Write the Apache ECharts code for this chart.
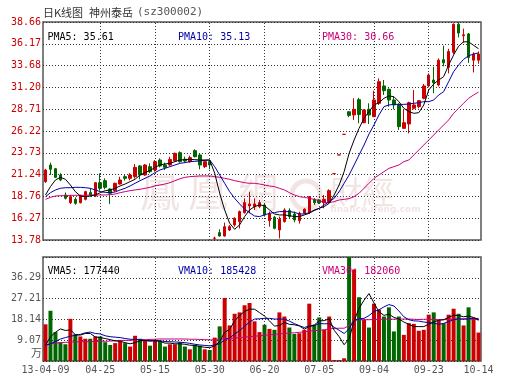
<!DOCTYPE html>
<html><head><meta charset="utf-8">
<script src="https://cdn.jsdelivr.net/npm/echarts@6/dist/echarts.min.js"></script>
<style>html,body{margin:0;padding:0;background:#fff}#c{width:530px;height:391px}</style>
</head><body><div id="c"></div>
<script>
// ---- data ----
const xTickIdx = [0, 11, 22, 33, 44, 55, 66, 77, 87];
const xTickLabels = ['13-04-09', '04-25', '05-15', '05-30', '06-20', '07-05', '09-04', '09-23', '10-14'];
const priceTicks = ['13.78', '16.27', '18.76', '21.24', '23.73', '26.22', '28.71', '31.20', '33.68', '36.17', '38.66'];
const volTicks = ['', '9.07', '18.14', '27.21', '36.29', ''];
const priceMin = 13.78, priceMax = 38.66;
const volMax = 45.35, volStep = 9.07;

const open = [20.44,22.34,21.92,21.20,18.92,18.04,18.42,18.04,18.42,19.19,18.80,20.32,20.55,19.60,19.41,20.17,21.01,20.82,21.01,22.23,21.20,22.15,21.77,22.91,22.34,22.34,22.83,23.75,23.00,22.72,23.98,23.48,22.15,22.72,13.97,14.62,14.24,14.92,15.50,15.88,16.90,17.67,17.59,17.59,17.78,15.99,16.37,14.92,15.88,17.14,16.75,15.99,16.83,16.90,18.43,18.35,18.04,18.16,21.35,23.49,25.84,28.42,28.05,29.80,27.17,28.69,27.86,29.38,31.36,30.98,29.76,29.19,26.52,27.02,28.81,29.00,29.95,31.36,32.04,31.47,34.35,33.50,35.20,38.40,37.10,37.30,34.30,34.30];
const close = [21.77,21.85,20.93,20.63,18.54,18.73,17.97,18.84,19.30,18.92,20.32,19.68,19.79,19.11,20.25,20.63,20.82,21.20,22.07,21.20,22.34,21.58,22.72,22.23,22.07,22.98,23.67,22.72,22.80,23.18,23.29,22.34,22.72,22.34,14.00,14.24,15.30,15.30,16.26,17.02,18.05,17.90,17.90,18.05,16.64,16.75,15.11,16.14,17.21,16.45,16.07,16.83,17.29,18.73,18.04,18.04,18.43,19.41,21.35,23.49,25.84,28.00,28.69,28.10,28.62,28.05,29.76,31.85,30.82,29.76,29.19,26.72,27.17,29.45,29.19,29.68,31.36,32.61,31.74,34.30,34.00,35.30,38.40,37.40,37.20,34.60,35.00,35.00];
const low = [20.30,21.20,20.85,20.50,18.40,17.90,17.80,17.95,18.30,18.73,18.70,19.40,19.57,17.90,19.30,20.10,20.56,20.60,20.80,20.70,21.10,21.40,21.58,22.07,21.77,22.23,22.70,22.60,22.60,22.60,23.20,21.85,22.00,21.85,13.78,14.16,14.16,14.80,15.30,15.10,16.80,16.83,17.21,17.40,16.45,15.30,15.00,13.97,15.77,16.26,15.80,15.65,16.75,16.75,17.78,17.90,17.40,17.97,21.35,23.49,25.84,27.80,27.48,27.10,27.10,27.02,27.80,29.19,30.33,28.99,28.70,26.34,26.52,25.95,28.70,28.81,29.83,31.20,30.52,31.30,33.60,32.80,35.00,36.90,36.30,34.00,32.90,33.90];
const high = [21.90,22.61,22.00,21.40,19.20,18.90,18.65,18.95,19.40,19.68,20.40,21.39,20.82,19.68,20.32,21.00,21.28,21.40,22.45,22.34,22.45,22.53,22.91,23.10,22.60,23.29,23.75,23.90,23.30,23.40,24.13,23.60,22.90,22.91,14.16,15.00,15.77,15.50,16.37,17.14,18.54,19.30,18.54,18.35,17.97,17.02,16.52,16.45,17.40,17.40,17.02,17.02,17.40,18.80,18.54,18.45,18.92,19.57,21.35,23.49,25.84,28.42,29.95,30.00,28.70,29.38,30.82,32.23,32.04,31.09,30.14,29.38,28.69,29.57,30.90,29.76,31.60,32.80,33.56,34.50,35.96,35.60,38.50,38.66,37.90,37.40,35.20,35.30];
const ma5 = [18.92,19.87,20.63,20.93,20.71,20.06,19.30,18.80,18.73,18.80,18.92,19.18,19.41,19.49,19.68,19.95,20.17,20.44,20.71,21.20,21.47,21.70,22.07,22.34,22.46,22.53,22.72,22.91,22.95,22.99,22.95,22.91,22.91,22.91,21.39,19.11,17.21,15.69,15.00,15.50,16.45,17.21,17.59,17.78,17.70,17.21,16.75,16.64,16.64,16.56,16.45,16.45,16.64,16.83,17.21,17.40,17.59,17.97,18.92,20.06,21.58,23.67,25.19,26.52,27.67,28.43,29.19,29.45,29.95,30.22,30.14,29.57,28.81,28.43,28.24,28.31,29.19,30.90,31.58,32.04,32.42,33.75,34.90,35.90,36.40,36.40,36.00,35.61];
const ma10 = [18.73,19.18,19.49,19.68,19.75,19.75,19.79,19.79,19.75,19.68,19.49,19.30,19.22,19.18,19.26,19.49,19.68,19.95,20.25,20.55,20.82,21.09,21.47,21.77,21.96,22.15,22.34,22.53,22.61,22.72,22.76,22.80,22.87,22.91,22.15,21.20,20.25,19.30,18.54,17.89,17.32,16.90,16.52,16.45,16.64,16.83,16.90,17.02,17.02,17.02,16.94,16.75,16.75,16.90,17.13,17.40,17.78,18.16,18.54,19.30,20.25,21.20,22.34,23.48,24.62,25.88,26.91,28.05,29.00,29.19,29.26,29.26,29.26,29.30,29.38,29.45,29.57,29.57,29.76,30.33,30.71,31.85,32.99,33.75,34.40,34.80,35.00,35.13];
const ma30 = [18.42,18.65,18.80,18.84,18.84,18.88,18.88,18.88,18.88,18.92,18.92,18.92,18.92,18.96,19.03,19.18,19.30,19.41,19.49,19.57,19.68,19.79,19.95,20.06,20.17,20.32,20.55,20.76,20.93,21.01,21.05,21.09,21.09,21.09,21.01,20.93,20.82,20.71,20.55,20.44,20.32,20.25,20.25,20.17,20.06,19.95,19.87,19.68,19.49,19.18,18.92,18.73,18.65,18.54,18.42,18.27,18.04,18.04,18.16,18.35,18.42,18.50,18.73,19.11,19.68,20.25,20.82,21.20,21.58,21.96,22.15,22.34,22.72,22.91,23.48,24.05,24.62,25.19,25.76,26.34,26.91,27.48,28.24,28.81,29.38,29.95,30.33,30.66];
const volume = [16.0,21.9,12.6,8.2,7.3,18.4,11.7,10.7,9.7,9.7,10.7,10.7,8.2,7.0,7.8,9.2,7.8,6.3,11.0,9.7,8.9,6.7,8.9,8.8,6.3,7.3,7.3,8.2,6.3,5.1,7.0,6.7,5.1,4.8,10.2,15.1,27.5,15.5,20.6,21.2,24.3,25.3,17.3,12.6,15.8,14.0,13.6,21.2,19.4,14.6,11.8,12.1,13.6,25.0,15.8,19.0,13.6,19.4,0.44,0.44,1.2,45.3,39.9,27.8,18.0,14.6,25.0,22.4,19.4,23.4,12.9,19.4,11.4,16.5,16.2,13.2,13.6,20.2,21.2,18.0,16.5,20.2,22.8,20.6,15.5,23.4,19.0,12.4];
const vma5 = [7.0,10.5,12.5,14.0,13.3,13.6,11.5,11.3,12.0,12.0,10.5,10.2,9.8,9.3,8.8,8.6,8.0,7.5,8.0,8.8,8.9,8.7,8.9,8.6,7.8,7.8,7.5,7.5,7.3,6.9,6.8,6.3,6.0,5.8,6.6,8.5,12.5,13.8,17.5,19.8,21.6,22.6,22.6,21.1,19.6,17.5,15.2,15.5,16.8,16.0,15.8,15.3,13.9,15.0,15.7,17.5,17.6,18.4,13.4,10.6,7.1,9.6,17.5,23.0,26.5,29.4,25.3,21.5,19.9,20.4,19.0,18.3,17.0,16.0,15.0,15.0,15.0,16.0,17.0,17.8,18.0,19.0,20.0,19.8,19.3,19.6,19.0,17.74];
const vma10 = [6.8,7.5,8.5,9.6,10.2,10.8,11.2,11.6,12.3,12.6,12.0,11.8,11.0,10.6,10.4,10.2,9.8,9.5,9.4,9.3,9.0,8.8,8.8,8.8,8.5,8.4,8.3,8.2,8.0,7.7,7.3,7.0,6.8,6.6,7.0,7.5,9.3,10.0,11.8,13.2,15.1,17.0,18.3,18.4,18.6,18.6,18.3,18.3,18.2,17.4,16.3,15.4,14.6,15.3,15.4,16.4,16.2,16.3,14.7,13.4,12.0,14.0,17.8,18.4,18.6,19.8,21.6,22.3,23.6,24.6,24.0,21.8,19.3,18.0,17.5,17.4,17.0,16.7,16.5,16.0,16.4,17.2,18.0,18.4,18.3,18.4,18.6,18.54];
const vma30 = [7.0,7.4,7.8,8.0,8.1,8.3,8.3,8.4,8.4,8.5,8.5,8.6,8.6,8.7,8.8,8.9,9.0,9.0,9.2,9.3,9.3,9.4,9.5,9.6,9.6,9.6,9.6,9.6,9.6,9.5,9.5,9.4,9.3,9.2,9.2,9.4,9.7,9.9,10.0,10.2,10.4,10.6,10.8,11.0,11.2,11.4,11.6,11.8,12.0,12.2,12.3,12.5,12.7,13.0,13.2,13.4,13.6,14.0,14.2,14.3,14.3,15.5,17.6,18.0,18.0,18.0,18.1,18.2,18.2,18.3,18.2,18.3,18.3,18.3,18.2,18.1,18.2,18.2,18.1,18.0,18.0,18.2,18.3,18.2,18.3,18.3,18.2,18.21];
const legendP = ['PMA5: 35.61', 'PMA10: 35.13', 'PMA30: 30.66'];
const legendV = ['VMA5: 177440', 'VMA10: 185428', 'VMA30: 182060'];

// ---- chart ----
const UP = '#cc0000', DOWN = '#006600';
const C5 = '#000000', C10 = '#0000aa', C30 = '#cc0077';
const MONO = '"DejaVu Sans Mono", monospace';
const idx = open.map((_, i) => i);
const ohlc = open.map((o, i) => [o, close[i], low[i], high[i]]);
const gridLineStyle = { color: '#333', width: 1, type: [1, 2] };
const vLines = xTickIdx.slice(1, 8).map(i => ({ xAxis: i }));
const markV = { symbol: ['none', 'none'], silent: true, animation: false, label: { show: false },
  lineStyle: gridLineStyle, emphasis: { disabled: true }, data: vLines };
const WM = 'rgba(200,130,130,0.22)';

const chart = echarts.init(document.getElementById('c'), null, { renderer: 'canvas' });
const txt = (x, y, s, color, font, size) => ({ type: 'text', left: x, top: y, silent: true, z: 50,
  style: { text: s, fill: color, font: size + 'px ' + font, textVerticalAlign: 'middle' } });

chart.setOption({
  animation: false,
  backgroundColor: '#fff',
  grid: [
    { left: 43, top: 22, width: 438, height: 218, show: true, borderColor: '#555', borderWidth: 1.5, backgroundColor: 'transparent' },
    { left: 43, top: 257, width: 438, height: 104, show: true, borderColor: '#555', borderWidth: 1.5, backgroundColor: 'transparent' }
  ],
  xAxis: [
    { type: 'category', gridIndex: 0, data: idx, boundaryGap: true, axisLine: { show: false }, axisTick: { show: false }, axisLabel: { show: false }, splitLine: { show: false } },
    { type: 'category', gridIndex: 1, data: idx, boundaryGap: true, axisLine: { show: false }, axisTick: { show: false }, splitLine: { show: false },
      axisLabel: { show: true, interval: (i) => xTickIdx.indexOf(i) >= 0, margin: 4, color: '#555', fontFamily: MONO, fontSize: 10,
        formatter: (v, i) => { const k = xTickIdx.indexOf(Number(v)); return k >= 0 ? xTickLabels[k] : ''; } } }
  ],
  yAxis: [
    { type: 'value', gridIndex: 0, position: 'left', min: priceMin, max: priceMax, show: false },
    { type: 'value', gridIndex: 0, position: 'left', offset: 0, min: 0, max: 10, interval: 1, axisLine: { show: false }, axisTick: { show: false },
      axisLabel: { margin: 2, color: '#cc0000', fontFamily: MONO, fontSize: 10, showMinLabel: true, showMaxLabel: true,
        formatter: (v) => priceTicks[Math.round(v)] },
      splitLine: { show: true, lineStyle: gridLineStyle } },
    { type: 'value', gridIndex: 1, position: 'left', min: 0, max: volMax, interval: volStep, axisLine: { show: false }, axisTick: { show: false },
      axisLabel: { margin: 2, color: '#555', fontFamily: MONO, fontSize: 10, formatter: (v) => volTicks[Math.round(v / volStep)] },
      splitLine: { show: true, lineStyle: gridLineStyle } }
  ],
  series: [
    { type: 'candlestick', xAxisIndex: 0, yAxisIndex: 0, data: ohlc, barWidth: 3,
      itemStyle: { color: UP, color0: DOWN, borderColor: UP, borderColor0: DOWN, borderWidth: 1 }, markLine: markV, z: 3 },
    { type: 'line', xAxisIndex: 0, yAxisIndex: 0, data: ma30, symbol: 'none', lineStyle: { color: C30, width: 1 }, z: 4 },
    { type: 'line', xAxisIndex: 0, yAxisIndex: 0, data: ma10, symbol: 'none', lineStyle: { color: C10, width: 1 }, z: 4 },
    { type: 'line', xAxisIndex: 0, yAxisIndex: 0, data: ma5, symbol: 'none', lineStyle: { color: C5, width: 1 }, z: 4 },
    { type: 'bar', xAxisIndex: 1, yAxisIndex: 2, data: volume, barWidth: 4, markLine: markV, z: 3,
      itemStyle: { color: (p) => close[p.dataIndex] >= open[p.dataIndex] ? UP : DOWN } },
    { type: 'line', xAxisIndex: 1, yAxisIndex: 2, data: vma30, symbol: 'none', lineStyle: { color: C30, width: 1 }, z: 4 },
    { type: 'line', xAxisIndex: 1, yAxisIndex: 2, data: vma10, symbol: 'none', lineStyle: { color: C10, width: 1 }, z: 4 },
    { type: 'line', xAxisIndex: 1, yAxisIndex: 2, data: vma5, symbol: 'none', lineStyle: { color: C5, width: 1 }, z: 4 }
  ],
  graphic: [
    { type: 'text', left: 140, top: 172, z: 1, silent: true, style: { text: '鳳', fill: WM, font: '40px "Noto Sans CJK TC"' } },
    { type: 'text', left: 188, top: 172, z: 1, silent: true, style: { text: '凰', fill: WM, font: '40px "Noto Sans CJK TC"' } },
    { type: 'text', left: 238, top: 172, z: 1, silent: true, style: { text: '網', fill: WM, font: '40px "Noto Sans CJK TC"' } },
    { type: 'circle', shape: { cx: 306, cy: 195, r: 14 }, z: 1, silent: true, style: { fill: 'none', stroke: WM, lineWidth: 5 } },
    { type: 'text', left: 330, top: 176, z: 1, silent: true, style: { text: '財經', fill: WM, font: '32px "Noto Sans CJK TC"' } },
    { type: 'text', left: 330, top: 205, z: 1, silent: true, style: { text: 'finance.ifeng.com', fill: WM, font: 'bold 9px "DejaVu Sans"' } },
    txt(43, 7, '日K线图', '#333', '"Noto Sans CJK SC"', 11),
    txt(89, 7, '神州泰岳', '#333', '"Noto Sans CJK SC"', 11),
    txt(137, 7, '(sz300002)', '#555', MONO, 11),
    txt(47.5, 32, legendP[0], C5, MONO, 10),
    txt(178, 32, legendP[1], C10, MONO, 10),
    txt(322, 32, legendP[2], C30, MONO, 10),
    txt(47.5, 266, legendV[0], C5, MONO, 10),
    txt(178, 266, legendV[1], C10, MONO, 10),
    txt(322, 266, legendV[2], C30, MONO, 10),
    { type: 'text', right: 530 - 42, top: 347, silent: true, z: 50, style: { text: '万', fill: '#555', font: '11px "Noto Sans CJK SC"' } }
  ]
});
</script></body></html>
